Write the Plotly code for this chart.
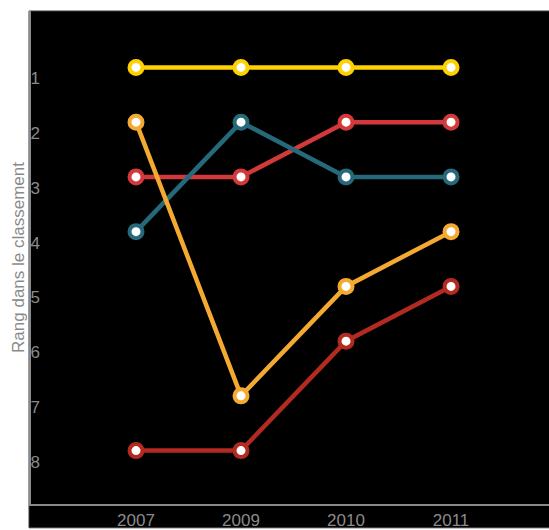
import plotly.graph_objects as go

years = ["2007", "2009", "2010", "2011"]
rank_labels = ["1", "2", "3", "4", "5", "6", "7", "8"]
rank_values = [1, 2, 3, 4, 5, 6, 7, 8]

series_yellow = [1, 1, 1, 1]
series_orange = [2, 7, 5, 4]
series_teal = [4, 2, 3, 3]
series_red = [3, 3, 2, 2]
series_darkred = [8, 8, 6, 5]

colors = {
    "yellow": "#FFD100",
    "orange": "#F4AA30",
    "teal": "#25697A",
    "red": "#D3393A",
    "darkred": "#B22A20",
}

series = [
    ("darkred", series_darkred),
    ("red", series_red),
    ("teal", series_teal),
    ("orange", series_orange),
    ("yellow", series_yellow),
]

fig = go.Figure()
for name, vals in series:
    c = colors[name]
    fig.add_trace(go.Scatter(
        x=years, y=vals, mode="lines+markers", name=name,
        line=dict(color=c, width=4.5),
        marker=dict(size=13, color="white", line=dict(color=c, width=4)),
        showlegend=False, hoverinfo="skip",
    ))

W, H = 549, 530
ml, mr, mt, mb = 31, 0, 11, 22
pw = W - ml - mr
ph = H - mt - mb

fig.add_shape(type="rect", xref="paper", yref="paper",
              x0=-2 / pw, x1=1.02, y0=-(mb + 2) / ph, y1=1,
              fillcolor="black", line=dict(color="#3a3a3a", width=1), layer="below")

fig.update_layout(
    width=W, height=H,
    margin=dict(l=ml, r=mr, t=mt, b=mb, pad=0),
    paper_bgcolor="white", plot_bgcolor="black",
    font=dict(family="Liberation Sans, Arial, sans-serif", color="#8a8a8a", size=17),
    xaxis=dict(
        type="category", range=[-1, 3.933],
        showgrid=False, zeroline=False,
        showline=True, linecolor="#8a8a8a", linewidth=2,
        ticks="", tickfont=dict(size=17, color="#8a8a8a"),
    ),
    yaxis=dict(
        range=[8.975, -0.03],
        tickvals=[v + 0.2 for v in rank_values], ticktext=rank_labels,
        ticklabelposition="inside",
        showgrid=False, zeroline=False,
        showline=True, linecolor="#8a8a8a", linewidth=2,
        ticks="", tickfont=dict(size=17, color="#8a8a8a"),
        title=dict(text="Rang dans le classement", font=dict(size=17, color="#8a8a8a"), standoff=2),
    ),
)

fig.write_html("out.html")
